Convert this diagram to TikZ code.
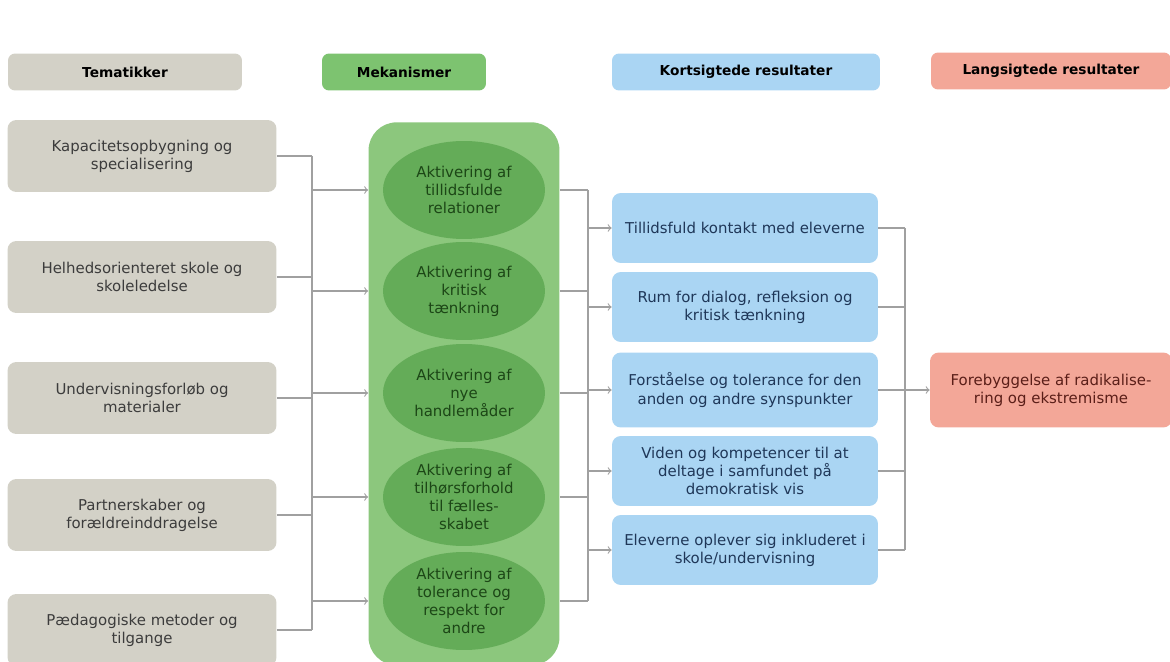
\documentclass[tikz,border=0pt]{standalone}
\usepackage{fontspec}
\setmainfont{DejaVu Sans}
\usetikzlibrary{shapes.geometric}

\definecolor{temgray}{RGB}{211,209,199}
\definecolor{temtext}{RGB}{60,60,60}
\definecolor{mekhead}{RGB}{125,195,112}
\definecolor{mekbg}{RGB}{140,199,125}
\definecolor{mekell}{RGB}{100,172,88}
\definecolor{mektext}{RGB}{28,70,22}
\definecolor{kortblue}{RGB}{170,213,243}
\definecolor{korttext}{RGB}{31,55,88}
\definecolor{langpink}{RGB}{243,167,152}
\definecolor{langtext}{RGB}{90,30,24}
\definecolor{linegray}{RGB}{160,160,160}

\tikzset{
  txt/.style={align=center, font=\fontsize{8.5}{10.3}\selectfont},
  headbox/.style={rounded corners=4pt, minimum height=0.74cm, font=\fontsize{7.8}{9}\selectfont\bfseries},
  tembox/.style={txt, fill=temgray, text=temtext, rounded corners=5pt,
    minimum width=5.38cm, minimum height=1.44cm},
  mekell/.style={txt, ellipse, fill=mekell, text=mektext, inner sep=0pt,
    minimum width=3.24cm, minimum height=1.96cm},
  kortbox/.style={txt, fill=kortblue, text=korttext, rounded corners=5pt,
    minimum width=5.32cm, minimum height=1.4cm},
  langbox/.style={txt, fill=langpink, text=langtext, rounded corners=5pt,
    minimum width=4.84cm, minimum height=1.5cm},
  conn/.style={draw=linegray, line width=0.65pt},
  arr/.style={conn, ->},
}

\begin{document}
\begin{tikzpicture}[x=0.02cm, y=-0.02cm]

  \useasboundingbox (0,0) rectangle (1170,662);
  \clip (0,0) rectangle (1170,662);

  % Column headers
  \node[headbox, fill=temgray, minimum width=4.68cm] (hTem) at (125,72) {Tematikker};
  \node[headbox, fill=mekhead, minimum width=3.28cm] (hMek) at (404,72) {Mekanismer};
  \node[headbox, fill=kortblue, minimum width=5.36cm] (hKort) at (746,72) {Kortsigtede resultater};
  \node[headbox, fill=langpink, minimum width=4.8cm] (hLang) at (1051,71) {Langsigtede resultater};

  % Tematikker
  \node[tembox] (tem1) at (142,156) {Kapacitetsopbygning og\\specialisering};
  \node[tembox] (tem2) at (142,277) {Helhedsorienteret skole og\\skoleledelse};
  \node[tembox] (tem3) at (142,398) {Undervisningsforløb og\\materialer};
  \node[tembox] (tem4) at (142,515) {Partnerskaber og\\forældreinddragelse};
  \node[tembox] (tem5) at (142,630) {Pædagogiske metoder og\\tilgange};

  % Mekanismer (container + ellipses)
  \node[fill=mekbg, rounded corners=16pt, minimum width=3.82cm, minimum height=10.86cm,
    anchor=north] (mekbox) at (464,122) {};
  \node[mekell] (mek1) at (464,190) {Aktivering af\\tillidsfulde\\relationer};
  \node[mekell] (mek2) at (464,291) {Aktivering af\\kritisk\\tænkning};
  \node[mekell] (mek3) at (464,393) {Aktivering af\\nye\\handlemåder};
  \node[mekell] (mek4) at (464,497) {Aktivering af\\tilhørsforhold\\til fælles-\\skabet};
  \node[mekell] (mek5) at (464,601) {Aktivering af\\tolerance og\\respekt for\\andre};

  % Kortsigtede resultater
  \node[kortbox] (kort1) at (745,228) {Tillidsfuld kontakt med eleverne};
  \node[kortbox] (kort2) at (745,307) {Rum for dialog, refleksion og\\kritisk tænkning};
  \node[kortbox, minimum height=1.5cm] (kort3) at (745,390) {Forståelse og tolerance for den\\anden og andre synspunkter};
  \node[kortbox] (kort4) at (745,471) {Viden og kompetencer til at\\deltage i samfundet på\\demokratisk vis};
  \node[kortbox] (kort5) at (745,550) {Eleverne oplever sig inkluderet i\\skole/undervisning};

  % Langsigtede resultater
  \node[langbox] (lang) at (1051,390) {Forebyggelse af radikalise-\\ring og ekstremisme};

  % Bus lines
  \coordinate (busL) at (312,0);
  \coordinate (busM) at (588,0);
  \coordinate (busR) at (905,0);

  % Tematikker -> Mekanismer
  \foreach \i in {1,...,5}
    \draw[conn] (tem\i.east) -- (busL |- tem\i);
  \draw[conn] (busL |- tem1) -- (busL |- tem5);
  \foreach \i in {1,...,5}
    \draw[arr] (busL |- mek\i) -- (mekbox.west |- mek\i);

  % Mekanismer -> Kortsigtede
  \foreach \i in {1,...,5}
    \draw[conn] (mekbox.east |- mek\i) -- (busM |- mek\i);
  \draw[conn] (busM |- mek1) -- (busM |- mek5);
  \foreach \i in {1,...,5}
    \draw[arr] (busM |- kort\i) -- (kort\i.west);

  % Kortsigtede -> Langsigtede
  \foreach \i in {1,...,5}
    \draw[conn] (kort\i.east) -- (busR |- kort\i);
  \draw[conn] (busR |- kort1) -- (busR |- kort5);
  \draw[arr] (busR |- lang) -- (lang.west);

\end{tikzpicture}
\end{document}
